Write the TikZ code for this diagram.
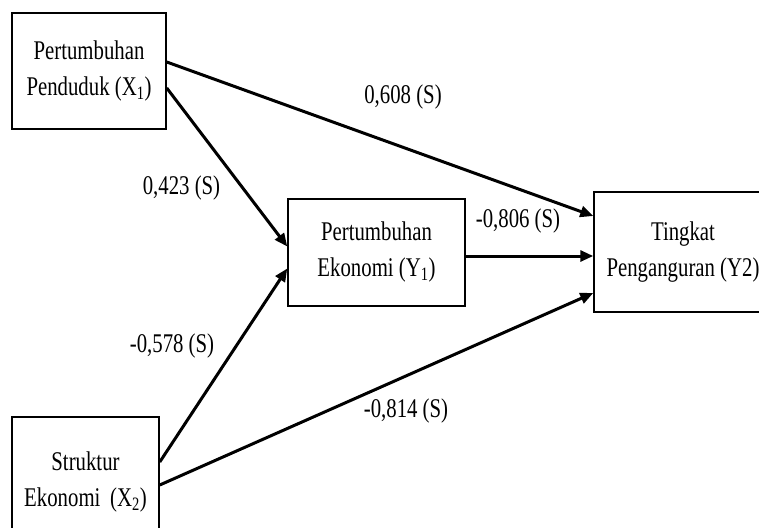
\documentclass[tikz,border=0pt]{standalone}
\usepackage{fontspec}
\setmainfont{Liberation Serif}[FakeStretch=0.77]
\usetikzlibrary{arrows.meta}
\tikzset{
  box/.style={draw=black, line width=1.5pt, align=center, inner sep=0pt, font=\fontsize{27}{36}\selectfont},
  path/.style={line width=3pt, -{Triangle[length=13pt,width=11pt]}},
  coef/.style={font=\fontsize{27}{30}\selectfont, inner sep=0pt}
}
\begin{document}
\begin{tikzpicture}[x=1pt,y=-1pt]
\useasboundingbox (0,0) rectangle (759,527);
\clip (0,0) rectangle (759,527);
\node[box, minimum width=154pt, minimum height=116pt] (x1) at (89,71) {Pertumbuhan\\Penduduk (X\textsubscript{1})};
\node[box, minimum width=147pt, minimum height=130pt] (x2) at (85.5,482) {Struktur\\Ekonomi\, (X\textsubscript{2})};
\node[box, minimum width=177pt, minimum height=107pt] (y1) at (376.5,252.5) {Pertumbuhan\\Ekonomi (Y\textsubscript{1})};
\node[box, minimum width=178pt, minimum height=120pt] (y2) at (683,252) {Tingkat\\Penganguran (Y2)};
\draw[path] ([yshift=9pt]x1.east) -- ([yshift=36pt]y2.west);
\draw[path] ([yshift=-17pt]x1.east) -- ([yshift=6pt]y1.west);
\draw[path] ([yshift=-3.5pt]y1.east) -- ([yshift=-3.5pt]y1.east -| y2.west);
\draw[path] ([yshift=20pt]x2.east) -- ([yshift=-16pt]y1.west);
\draw[path] ([yshift=-3pt]x2.east) -- ([yshift=-41pt]y2.west);
\node[coef] (c1) at (403,97) {0,608 (S)};
\node[coef] (c2) at (181.5,188) {0,423 (S)};
\node[coef] (c3) at (518,221) {-0,806 (S)};
\node[coef] (c4) at (172,346) {-0,578 (S)};
\node[coef] (c5) at (406,411) {-0,814 (S)};
\end{tikzpicture}
\end{document}
